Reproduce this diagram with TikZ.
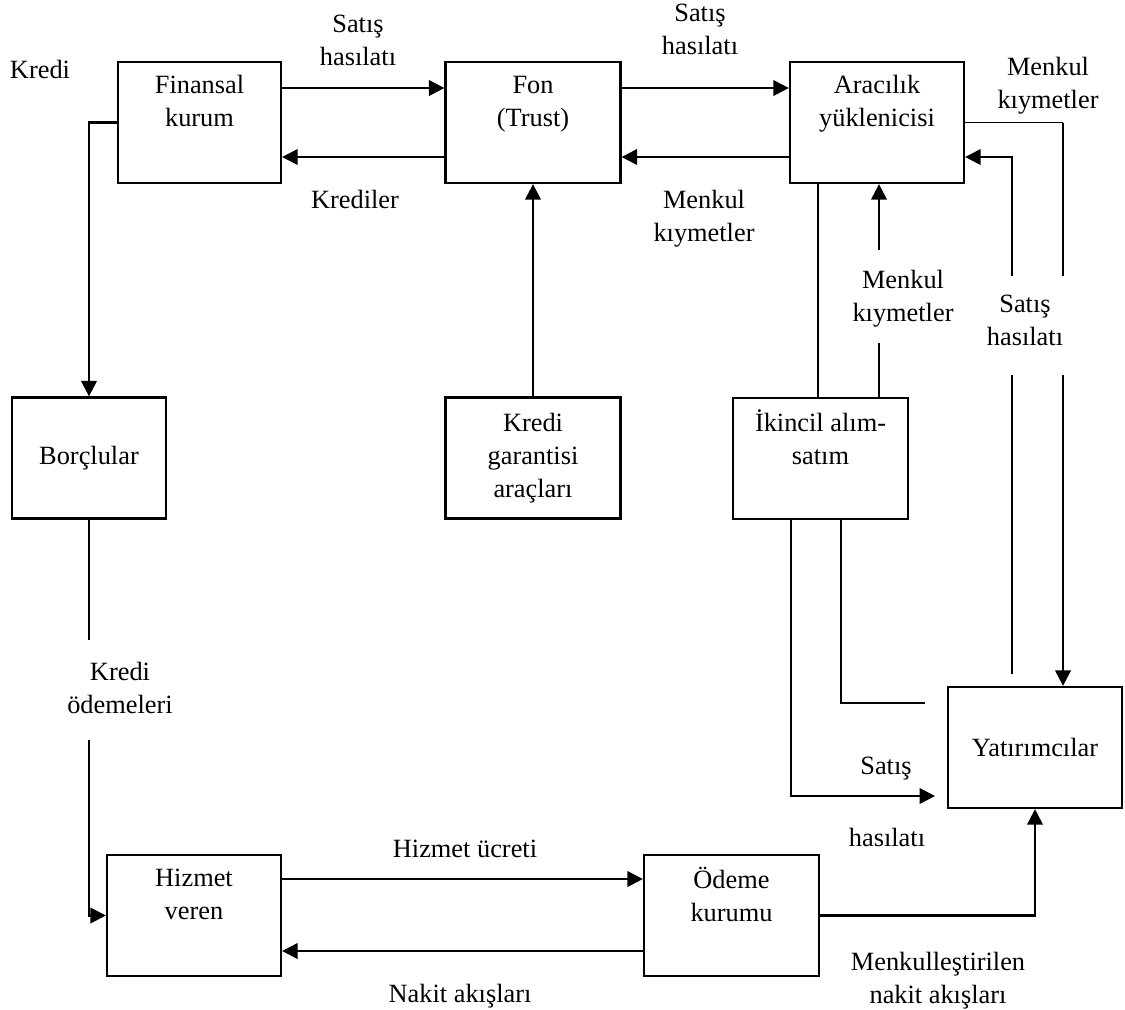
\documentclass[tikz,border=0pt]{standalone}
\usepackage{fontspec}
\setmainfont{Liberation Serif}
\usepackage{tikz}
\usetikzlibrary{arrows.meta,positioning}
\newcommand{\diafont}{\fontsize{15}{18.8}\selectfont}

\begin{document}
\begin{tikzpicture}[
  x=0.02cm, y=-0.02cm,
  box/.style     ={draw=black, line width=1.3pt, minimum width=3.48cm, minimum height=2.42cm, inner sep=0pt, align=center, font=\diafont},
  lbl/.style     ={inner sep=0pt, align=center, anchor=north, font=\diafont},
  flow/.style    ={line width=1.3pt, black},
  thinline/.style={line width=0.7pt, black},
  arr/.style     ={flow, -{Triangle[length=3.1mm, width=3.1mm]}},
]
  \useasboundingbox (0,0) rectangle (1125,1009);

  % boxes
  \node[box, minimum width=3.26cm] (fin)     at (199.5,122.5) {Finansal\\kurum\\\strut};
  \node[box, minimum width=3.5cm]  (fon)     at (533,122.5)   {Fon\\(Trust)\\\strut};
  \node[box]                       (araci)   at (877,122.5)   {Aracılık\\yüklenicisi\\\strut};
  \node[box, minimum width=3.08cm] (borc)    at (89,458)      {Borçlular};
  \node[box, minimum width=3.5cm]  (garanti) at (533,458)     {Kredi\\garantisi\\araçları};
  \node[box, minimum width=3.5cm]  (ikincil) at (820.5,458.5) {İkincil alım-\\satım\\\strut};
  \node[box]                       (yatirim) at (1035,747.5)  {Yatırımcılar};
  \node[box]                       (hizmet)  at (194,915.5)   {Hizmet\\veren\\\strut};
  \node[box, minimum width=3.5cm]  (odeme)   at (731.5,915.5) {Ödeme\\kurumu\\\strut};

  % labels
  \node[lbl] (kredi)    at (40,60)   {Kredi};
  \node[lbl] (satis1)   at (358,15)  {Satış\\hasılatı};
  \node[lbl] (krediler) at (355,190) {Krediler};
  \node[lbl] (satis2)   at (700,4)   {Satış\\hasılatı};
  \node[lbl] (menkul1)  at (704,190) {Menkul\\kıymetler};
  \node[lbl] (menkul2)  at (1048,57) {Menkul\\kıymetler};
  \node[lbl] (satis3)   at (1025,295) {Satış\\hasılatı};
  \node[lbl] (menkul3)  at (903,270) {Menkul\\kıymetler};
  \node[lbl] (kodeme)   at (120,662) {Kredi\\ödemeleri};
  \node[lbl] (ucret)    at (465,840) {Hizmet ücreti};
  \node[lbl] (nakit)    at (460,984) {Nakit akışları};
  \node[lbl] (satis4)   at (886,757) {Satış};
  \node[lbl] (hasilat4) at (887,828) {hasılatı};
  \node[lbl] (menknakit) at (938,952) {Menkulleştirilen\\nakit akışları};

  % levels and columns
  \coordinate (uprow)   at (0,88);
  \coordinate (lorow)   at (0,157);
  \coordinate (feerow)  at (0,879);
  \coordinate (cashrow) at (0,951);
  \coordinate (payup)   at (89,640);
  \coordinate (paydown) at (89,740);
  \coordinate (sellcol) at (1012,0);
  \coordinate (menkcol) at (1063,0);
  \coordinate (gaptop)  at (0,276);
  \coordinate (gapbot)  at (0,375);
  \coordinate (seccol)  at (879,0);
  \coordinate (tradecol) at (818,0);
  \coordinate (outcol)  at (791,0);
  \coordinate (incol)   at (841,0);
  \coordinate (sellend) at (935,796);
  \coordinate (buyend)  at (925,703);

  % top row
  \draw[arr] (fin.east |- uprow) -- (fon.west |- uprow);
  \draw[arr] (fon.west |- lorow) -- (fin.east |- lorow);
  \draw[arr] (fon.east |- uprow) -- (araci.west |- uprow);
  \draw[arr] (araci.west |- lorow) -- (fon.east |- lorow);

  % left side
  \draw[arr]  (fin.west) -| (borc.north);
  \draw[flow] (borc.south) -- (payup);
  \draw[arr]  (paydown) |- (hizmet.west);

  \draw[arr] (garanti) -- (fon);

  % right side
  \draw[thinline] (araci.east) -- (menkcol |- araci.east);
  \draw[flow] (menkcol |- araci.east) -- (menkcol |- gaptop);
  \draw[arr]  (menkcol |- gapbot) -- (menkcol |- yatirim.north);
  \draw[flow] (sellcol |- 0,674) -- (sellcol |- gapbot);
  \draw[arr]  (sellcol |- gaptop) |- (araci.east |- lorow);

  \draw[flow] (ikincil.north -| seccol) -- (seccol |- 0,343);
  \draw[arr]  (seccol |- 0,250) -- (araci.south -| seccol);
  \draw[thinline] (araci.south -| tradecol) -- (ikincil.north -| tradecol);

  \draw[thinline] (ikincil.south -| outcol) -- (outcol |- 0,590);
  \draw[arr]  (outcol |- 0,590) |- (sellend);
  \draw[flow] (ikincil.south -| incol) |- (buyend);

  % bottom row
  \draw[arr] (hizmet.east |- feerow) -- (odeme.west |- feerow);
  \draw[arr] (odeme.west |- cashrow) -- (hizmet.east |- cashrow);
  \draw[arr] (odeme.east) -| (yatirim.south);
\end{tikzpicture}
\end{document}
